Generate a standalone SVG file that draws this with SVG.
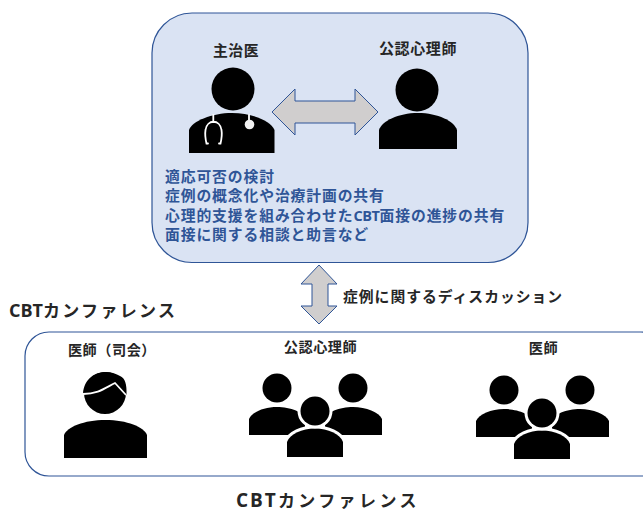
<svg xmlns="http://www.w3.org/2000/svg" width="643" height="512" viewBox="0 0 643 512">
<style>
text{font-family:"Noto Sans CJK JP","Noto Sans",sans-serif;font-weight:700;fill:#262626}
.m{text-anchor:middle}
.b{fill:#2f5597;font-size:14.800px;letter-spacing:.9px}
.l{font-size:14.200px;letter-spacing:.5px}
.c{font-family:"Open Sans","Noto Sans",sans-serif;letter-spacing:-.4px}
.box{stroke:#2f5597;stroke-width:1.2}
.arr{fill:#d0cece;stroke:#2f5597;stroke-width:1}
.st{fill:none;stroke:#fff;stroke-width:1.800;stroke-linecap:round}
.h{stroke:#fff;stroke-width:6;paint-order:stroke}
</style>
<defs>
<g id="crowd">
<circle cx="277" cy="388" r="14.500"/>
<circle cx="353" cy="388" r="14.500"/>
<path d="M249 435V419C252 412 264 407 277 407C290 407 305 412 305 420V435Z"/>
<path d="M325 435V420C325 412 340 407 353 407C366 407 379 412 382 419V435Z"/>
<path class="h" d="M287 457V442C290 434 302 428.500 315 428.500C328 428.500 340 434 343 442V457Z"/>
<circle class="h" cx="315" cy="411" r="14.500"/>
</g>
</defs>
<g id="panel-top"><rect class="box" x="152" y="13" width="376" height="249.500" rx="40" fill="#dae3f3"/></g>
<g id="panel-bottom"><rect class="box" x="25" y="332" width="640" height="144" rx="24" fill="#fff"/></g>
<g id="connectors">
<polygon class="arr" points="272,112 295,89 295,101 355,101 355,89 378,112 355,135 355,123 295,123 295,135"/>
<polygon class="arr" points="319,265 337,284 328,284 328,306 337,306 319,324 301,306 312,306 312,284 301,284"/>
</g>
<g id="doctor">
<text class="m" x="236" y="56" style="font-size:14.800px;letter-spacing:.5px">主治医</text>
<circle cx="233" cy="89" r="21.500"/>
<path d="M189 153V130C192 121 212 113 232 113C252 113 271 121 274.500 130V153Z"/>
<path class="st" d="M213.300 115V122M208 143.500H206.500C205 137 205 133 205.500 130C207 119 220 119 221.500 130C222 133 222 137 220.500 143.500H219"/>
<path class="st" d="M249 115V122"/>
<circle cx="249.500" cy="124.500" r="4.800" fill="#f2f2f2"/>
</g>
<g id="psychologist">
<text class="m" x="418" y="54" style="font-size:15px;letter-spacing:.6px">公認心理師</text>
<circle cx="417" cy="90" r="21.500"/>
<path d="M379 149V130C382 121 398 113 418 113C438 113 454 121 457 130V149Z"/>
</g>
<g id="topics">
<text class="b"><tspan x="165" y="182">適応可否の検討</tspan><tspan x="165" y="201">症例の概念化や治療計画の共有</tspan><tspan x="165" y="221">心理的支援を組み合わせた<tspan class="c" style="font-size:14.500px;fill:#2f5597">CBT</tspan>面接の進捗の共有</tspan><tspan x="165" y="240">面接に関する相談と助言など</tspan></text>
</g>
<g id="discussion-label"><text x="343" y="302" style="font-size:14.800px;letter-spacing:1px">症例に関するディスカッション</text></g>
<g id="title-left"><text x="9" y="317" style="font-size:17px;letter-spacing:2.300px"><tspan class="c" style="font-size:18px;letter-spacing:0">CBT</tspan>カンファレンス</text></g>
<g id="title-bottom"><text x="236" y="506.500" style="font-size:17px;letter-spacing:3.400px"><tspan class="c" style="font-size:19px;letter-spacing:2px">CBT</tspan>カンファレンス</text></g>
<g id="chair">
<text class="m l" x="112" y="355">医師（司会）</text>
<circle cx="105" cy="393" r="21"/>
<path d="M83 394C84 378 96 372 106 372C112 372 116 374 120 376C125 378 127 384 126.500 395L115 382C105 388 98 394 83 394Z"/>
<path d="M83 394C98 394 105 388 115 383L126 395" fill="none" stroke="#fff" stroke-width="1.800"/>
<path d="M64 458V435C67 427 84 420 105.500 420C127 420 144 427 147 435V458Z"/>
</g>
<g id="psychologists">
<text class="m l" x="320.500" y="352">公認心理師</text>
<use href="#crowd"/>
</g>
<g id="doctors">
<text class="m l" x="543.500" y="353">医師</text>
<use href="#crowd" x="227" y="2"/>
</g>
</svg>
